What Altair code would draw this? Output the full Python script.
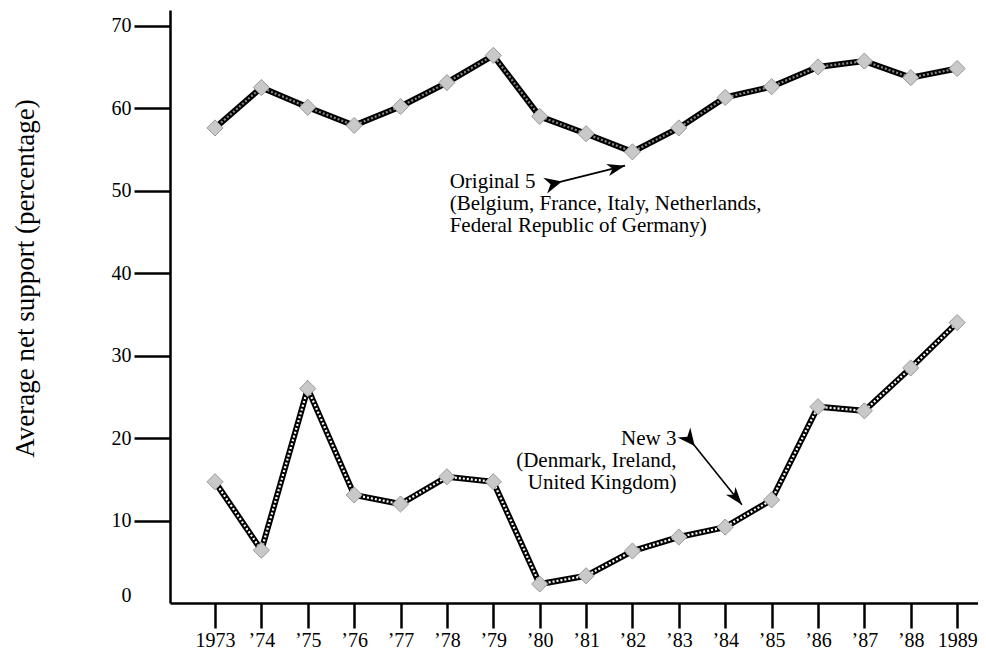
import json
import math
import altair as alt
import pandas as pd

# ---------------- data ----------------
years = list(range(1973, 1990))
tick_labels = ["1973", "\u201974", "\u201975", "\u201976", "\u201977", "\u201978", "\u201979",
               "\u201980", "\u201981", "\u201982", "\u201983", "\u201984", "\u201985", "\u201986",
               "\u201987", "\u201988", "1989"]
original5 = [57.6, 62.5, 60.1, 57.9, 60.2, 63.1, 66.4, 59.0, 56.9, 54.7, 57.6, 61.3, 62.6, 65.0, 65.7, 63.7, 64.8]
new3 = [14.7, 6.4, 26.0, 13.1, 12.0, 15.3, 14.7, 2.3, 3.3, 6.3, 8.0, 9.2, 12.5, 23.8, 23.3, 28.5, 34.0]
series_names = ["Original 5", "New 3"]
y_ticks = [0, 10, 20, 30, 40, 50, 60, 70]

# annotations (data units)
ann_left_text = ["Original 5", "(Belgium, France, Italy, Netherlands,", "Federal Republic of Germany)"]
ann_right_text = ["New 3", "(Denmark, Ireland,", "United Kingdom)"]
ann_left_pos = [1978.06, 50.3]
ann_right_pos = [1982.95, 19.2]
arrow_x1 = [1980.29, 1983.22]
arrow_y1 = [50.85, 19.9]
arrow_x2 = [1981.84, 1984.36]
arrow_y2 = [53.03, 11.9]

# ---------------- layout ----------------
X_DOMAIN = [1972.03, 1989.45]
Y_DOMAIN = [0, 71.9]
W, H = 808, 593
FONT = "Liberation Serif"

rows = []
for name, vals in zip(series_names, [original5, new3]):
    for yr, v in zip(years, vals):
        rows.append({"year": yr, "value": v, "series": name})
df = pd.DataFrame(rows)

px_year = W / (X_DOMAIN[1] - X_DOMAIN[0])
px_val = H / (Y_DOMAIN[1] - Y_DOMAIN[0])
angles = []
for x1, y1, x2, y2 in zip(arrow_x1, arrow_y1, arrow_x2, arrow_y2):
    dx = (x2 - x1) * px_year
    dy = -(y2 - y1) * px_val
    angles.append(math.degrees(math.atan2(dx, -dy)) % 360)
arrows = pd.DataFrame({"x1": arrow_x1, "y1": arrow_y1, "x2": arrow_x2, "y2": arrow_y2, "angle": angles})

label_expr = json.dumps(tick_labels, ensure_ascii=False) + "[datum.value - 1973]"

xscale = alt.Scale(domain=X_DOMAIN, nice=False, zero=False)
yscale = alt.Scale(domain=Y_DOMAIN, nice=False, zero=False)

x_axis = alt.Axis(values=years, labelExpr=label_expr, title=None, grid=False,
                  tickSize=25, tickWidth=2.5, tickColor="black",
                  domainWidth=2.5, domainColor="black",
                  labelFont=FONT, labelFontSize=20, labelColor="black", labelPadding=2,
                  labelFlush=False, labelOverlap=False)
y_axis = alt.Axis(values=y_ticks, title="Average net support (percentage)", grid=False,
                  tickSize=36, tickWidth=2.5, tickColor="black",
                  tickOpacity={"condition": {"test": "datum.value === 0", "value": 0}, "value": 1},
                  labelOffset={"condition": {"test": "datum.value === 0", "value": -8}, "value": 0},
                  domainWidth=2.5, domainColor="black",
                  labelFont=FONT, labelFontSize=20, labelColor="black", labelPadding=3,
                  labelFlush=False, labelOverlap=False,
                  titleFont=FONT, titleFontSize=27, titleFontWeight="normal", titleColor="black",
                  titleAngle=270, titleAlign="center", titleBaseline="middle",
                  titleX=-145, titleY=268)

X = alt.X("year:Q", scale=xscale, axis=x_axis)
Y = alt.Y("value:Q", scale=yscale, axis=y_axis)

base = alt.Chart(df)
outer = base.mark_line(color="black", strokeWidth=6).encode(x=X, y=Y, detail="series:N")
inner = base.mark_line(strokeWidth=2.2, strokeDash=[2, 2]).encode(
    x="year:Q", y="value:Q",
    color=alt.Color("series:N", scale=alt.Scale(domain=series_names, range=["#8a8a8a", "white"]), legend=None))
pts = base.mark_point(shape="diamond", filled=True, size=260, fill="#c9c9c9",
                      stroke="#999999", strokeWidth=1, opacity=1).encode(x="year:Q", y="value:Q")

shafts = alt.Chart(arrows).mark_rule(color="black", strokeWidth=1.6).encode(
    x="x1:Q", y="y1:Q", x2="x2:Q", y2="y2:Q")
head_path = "M0,0 L0.55,1.6 L0,1.15 L-0.55,1.6 Z"
heads = alt.Chart(arrows).mark_point(shape=head_path, filled=True, color="black", size=500, opacity=1).encode(
    x="x2:Q", y="y2:Q", angle=alt.Angle("angle:Q", scale=None))
tail_path = "M0,-1 L0.9,0.9 L0,0.3 L-0.9,0.9 Z"
tails = alt.Chart(arrows).mark_point(shape=tail_path, filled=True, color="black", size=330, opacity=1).encode(
    x="x1:Q", y="y1:Q", angle=alt.Angle("angle:Q", scale=None))

txt_left = alt.Chart(pd.DataFrame({"x": [ann_left_pos[0]], "y": [ann_left_pos[1]],
                                   "t": ["\n".join(ann_left_text)]})).mark_text(
    font=FONT, fontSize=21, align="left", baseline="alphabetic", lineBreak="\n", lineHeight=22,
    color="black").encode(x="x:Q", y="y:Q", text="t:N")
txt_right = alt.Chart(pd.DataFrame({"x": [ann_right_pos[0]], "y": [ann_right_pos[1]],
                                    "t": ["\n".join(ann_right_text)]})).mark_text(
    font=FONT, fontSize=21, align="right", baseline="alphabetic", lineBreak="\n", lineHeight=22,
    color="black").encode(x="x:Q", y="y:Q", text="t:N")

chart = alt.layer(outer, inner, pts, shafts, heads, tails, txt_left, txt_right).properties(
    width=W, height=H,
    autosize=alt.AutoSizeParams(type="none"),
    padding={"left": 162, "top": 2, "right": 0, "bottom": 49},
    background="white",
).configure_view(stroke=None)

chart.save("out.html", embed_options={"renderer": "svg", "actions": False})
